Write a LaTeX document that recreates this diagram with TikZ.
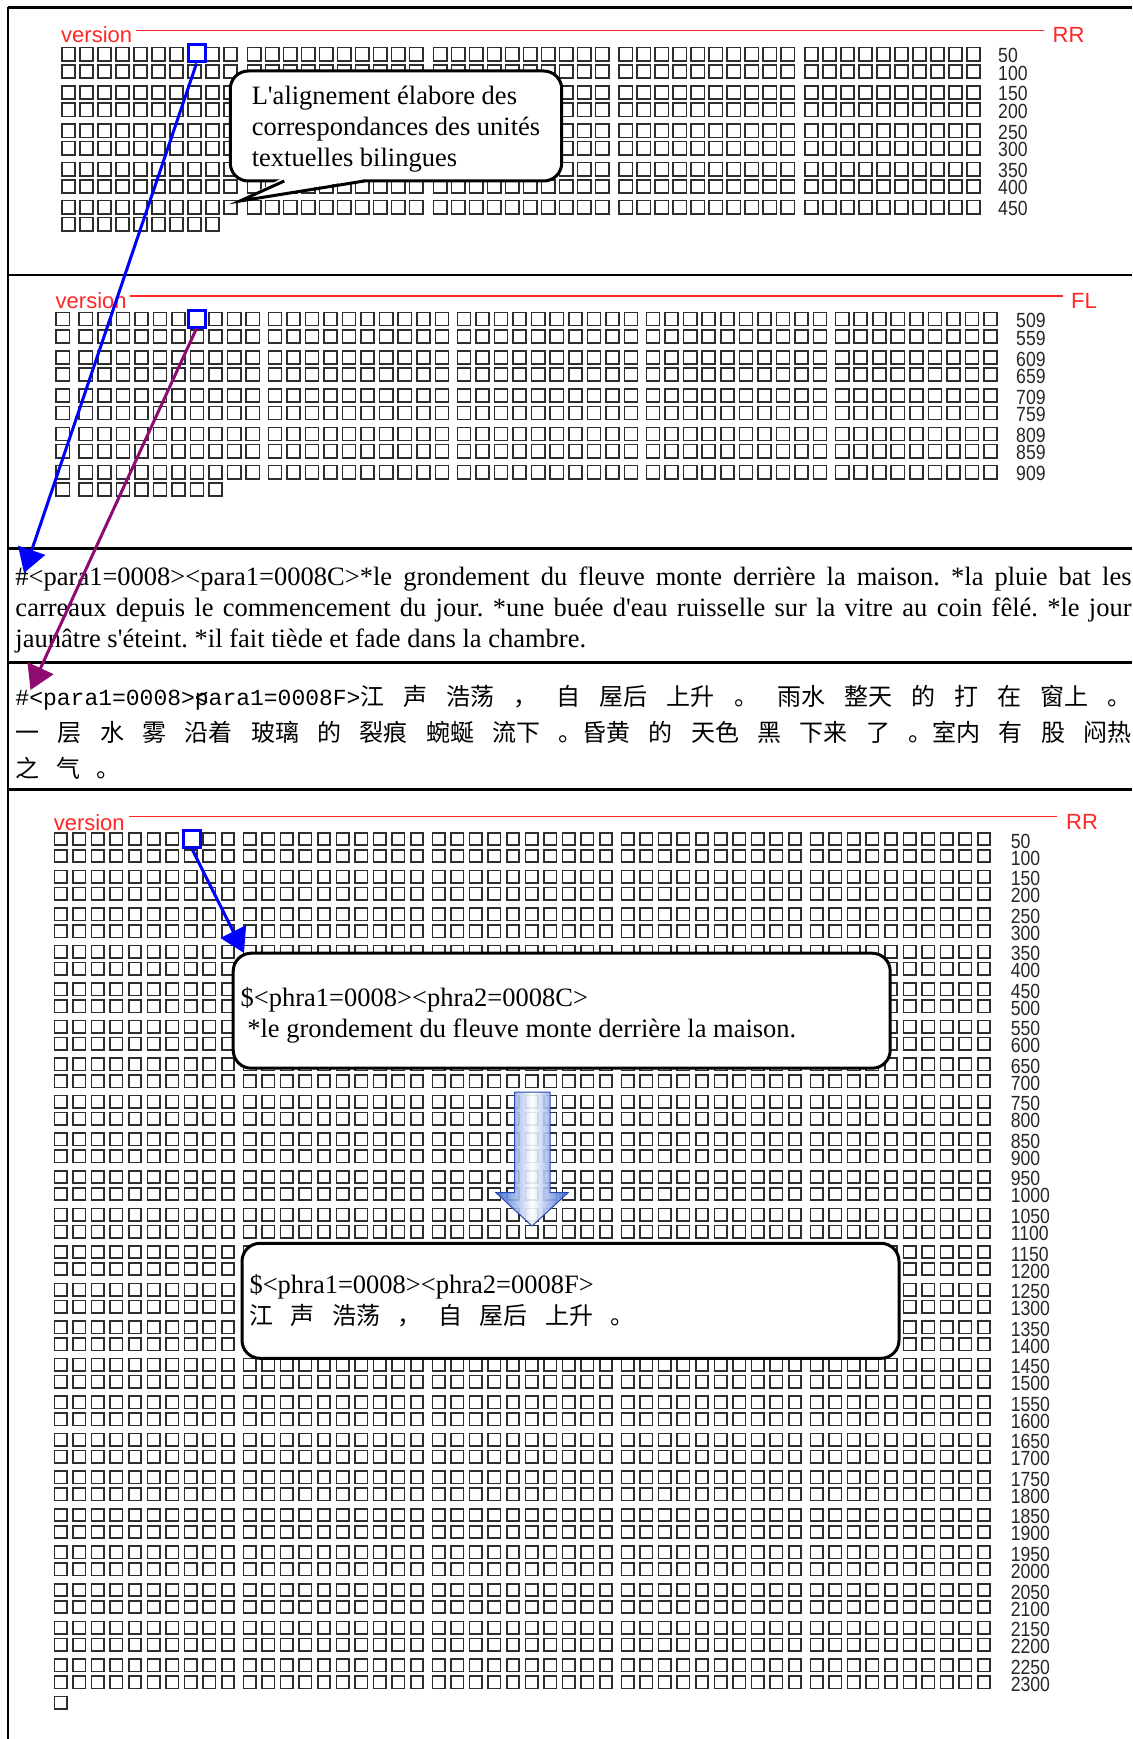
\documentclass[tikz,border=0pt]{standalone}
\usepackage{fontspec}
\setmainfont{Liberation Serif}
\newfontfamily\cjkfont[WordSpace=3.1]{Noto Sans CJK SC}
\newfontfamily\uifont{Liberation Sans}
\newfontfamily\numfont[FakeStretch=0.86]{Liberation Sans}
\newfontfamily\codefont{Liberation Mono}
\usetikzlibrary{arrows.meta,calc}
\definecolor{sqline}{HTML}{2E2E2E}
\definecolor{verred}{HTML}{FF2626}
\definecolor{selblue}{HTML}{0000FF}
\definecolor{linkpurple}{HTML}{8E0B6F}
\definecolor{shadeblue}{HTML}{3262D2}
\definecolor{shadeedge}{HTML}{2848B0}
\newcommand\jline[1]{\makebox[1116pt][s]{#1}}
\tikzset{frame/.style={line width=2.7pt},sq/.style={draw=sqline,line width=1.6pt},selsq/.style={draw=selblue,line width=3pt,fill=white,minimum size=17pt,inner sep=0pt},ver/.style={font=\uifont\fontsize{22}{22}\selectfont,text=verred,inner sep=0pt,anchor=base west},verline/.style={draw=verred,line width=1.2pt},num/.style={font=\numfont\fontsize{20.5}{20.5}\selectfont,text=black!85,inner sep=0pt,anchor=base west},para/.style={font=\fontsize{26.5}{31}\selectfont,inner sep=0pt,anchor=base west},cjkline/.style={font=\cjkfont\fontsize{24}{36}\selectfont,inner sep=0pt,anchor=base west},bubble/.style={draw,line width=3pt,fill=white,rounded corners=18pt,outer sep=0pt,align=left,font=\fontsize{26.5}{31}\selectfont},link/.style={-{Triangle[length=24pt,width=28pt]},line width=3pt}}

\begin{document}
\frenchspacing
\begin{tikzpicture}[x=1pt,y=-1pt]
\useasboundingbox (0,0) rectangle (1132,1739);
% frame
\draw[frame] (8,7.3) -- (1132,7.3) (8,7.3) -- (8,1739);
\foreach \yy in {275,548.3,662.7,789.4} \draw[frame] (8,\yy) -- (1132,\yy);

% RR, first version
\node[ver] (va) at (61,43) {version};
\node[ver] (ra) at (1052.5,43) {RR};
\draw[verline] ($(va.base east)+(4,-12.3)$) -- ($(ra.base west)+(-9,-12.3)$);
\foreach \r in {0,...,8}{
  \pgfmathsetmacro\yy{46.7+floor(\r/2)*38.3+mod(\r,2)*17.4}
  \pgfmathtruncatemacro\nn{50*(\r+1)}
  \draw[sq] \foreach \i in {0,...,49}{ ({61.8+floor(\i/10)*185.75+mod(\i,10)*18},{\yy+0.8}) rectangle ++(13.4,13.4) };
  \node[num] (na\r) at (998,\yy+16) {\nn};
}
\draw[sq] \foreach \i in {0,...,8}{ ({61.8+\i*18},217.5) rectangle ++(13.4,13.4) };

% FL
\node[ver] (vb) at (55.5,308) {version};
\node[ver] (rb) at (1071,308) {FL};
\draw[verline] ($(vb.base east)+(3,-12)$) -- ($(rb.base west)+(-8,-12)$);
\foreach \r in {0,...,8}{
  \pgfmathsetmacro\yy{311.7+floor(\r/2)*38.3+mod(\r,2)*17.3}
  \pgfmathtruncatemacro\nn{509+50*\r}
  \draw[sq] (56.2,\yy+0.7) rectangle ++(13.1,13.1) \foreach \i in {0,...,48}{ ({79.2+floor(\i/10)*189.1+mod(\i,10)*18.56},{\yy+0.7}) rectangle ++(13.1,13.1) };
  \node[num] (nb\r) at (1016,\yy+16) {\nn};
}
\draw[sq] (56.2,482.9) rectangle ++(13.1,13.1) \foreach \i in {0,...,7}{ ({79.2+\i*18.56},482.9) rectangle ++(13.1,13.1) };

% RR, second version
\node[ver] (vc) at (53.6,830) {version};
\node[ver] (rc) at (1066,829) {RR};
\draw[verline] ($(vc.base east)+(4,-13.3)$) -- ($(rc.base west)+(-9,-12.3)$);
\foreach \r in {0,...,45}{
  \pgfmathsetmacro\yy{832+floor(\r/2)*37.55+mod(\r,2)*17}
  \pgfmathtruncatemacro\nn{50*(\r+1)}
  \draw[sq] \foreach \i in {0,...,49}{ ({54.4+floor(\i/10)*189+mod(\i,10)*18.6},{\yy+0.8}) rectangle ++(12.4,12.4) };
  \node[num] (nc\r) at (1010.6,\yy+16) {\nn};
}
\draw[sq] (54.4,1696.3) rectangle ++(12.4,12.4);

\node[selsq] (sa) at (196.5,53.5) {};
\node[selsq] (sb) at (196.5,318.5) {};
\node[selsq] (sc) at (192,839) {};

% text blocks
\node[para] (ta) at (15.3,585.5) {\jline{\#<para1=0008><para1=0008C>*le grondement du fleuve monte derrière la maison. *la pluie bat les}};
\node[para] (tb) at (15.3,616.5) {\jline{carreaux depuis le commencement du jour. *une buée d\textquotesingle eau ruisselle sur la vitre au coin fêlé. *le jour}};
\node[para] (tc) at (15.3,647.5) {jaunâtre s\textquotesingle éteint. *il fait tiède et fade dans la chambre.};
\node[cjkline] (za) at (15.3,705) {\jline{{\codefont\fontsize{23}{23}\selectfont\#<para1=0008>\rlap{<}para1=0008F>}江 声 浩荡 ， 自 屋后 上升 。 雨水 整天 的 打 在 窗上 。}};
\node[cjkline] (zb) at (15.3,741) {\jline{一 层 水 雾 沿着 玻璃 的 裂痕 蜿蜒 流下 。昏黄 的 天色 黑 下来 了 。室内 有 股 闷热}};
\node[cjkline] (zc) at (15.3,777) {之 气 。};

% callouts
\node[bubble,minimum width=330,minimum height=110,inner xsep=21.5] (ba) at (396,126) {\rule{0pt}{25pt}L\textquotesingle alignement élabore des\\correspondances des unités\\textuelles bilingues};
\coordinate (tipa) at (240,201);
\fill[white] ($(ba.south west)+(52,-3)$) -- (tipa) -- ($(ba.south west)+(136,-3)$) -- cycle;
\fill[white] ($(ba.south west)+(54,-2)$) rectangle ($(ba.south west)+(133,1.6)$);
\draw[line width=3pt,line join=miter] ($(ba.south west)+(54,0)$) -- (tipa) -- ($(ba.south west)+(134,0)$);

\node[bubble,minimum width=657,minimum height=115,text width=642,inner xsep=7.5] (bb) at (561.7,1010.7) {\spaceskip=0pt\xspaceskip=0pt\rule{0pt}{28pt}\$<phra1=0008><phra2=0008C>\\\ *le grondement du fleuve monte derrière la maison.};
\node[bubble,minimum width=657,minimum height=115,text width=642,inner xsep=7.5] (bc) at (570.5,1300.8) {\$<phra1=0008><phra2=0008F>\\{\cjkfont\fontsize{24}{33}\selectfont\spaceskip=0pt\xspaceskip=0pt\makebox[385pt][s]{江 声 浩荡 ， 自 屋后 上升 。}}};
\shadedraw[draw=shadeedge,line width=1pt,left color=shadeblue,right color=shadeblue,middle color=white,fill opacity=0.9] (514.7,1092) -- (550,1092) -- (550,1192.7) -- (568,1192.7) -- (532,1226) -- (496,1192.7) -- (514.7,1192.7) -- cycle;

% links
\coordinate (pa) at (24,573);
\coordinate (pb) at (30.5,690);
\coordinate (pc) at (244,953);
\draw[link,color=selblue] (sa.south) -- (pa);
\draw[link,color=linkpurple] (sb.south) -- (pb);
\draw[link,color=selblue] (sc.south) -- (pc);
\end{tikzpicture}
\end{document}
